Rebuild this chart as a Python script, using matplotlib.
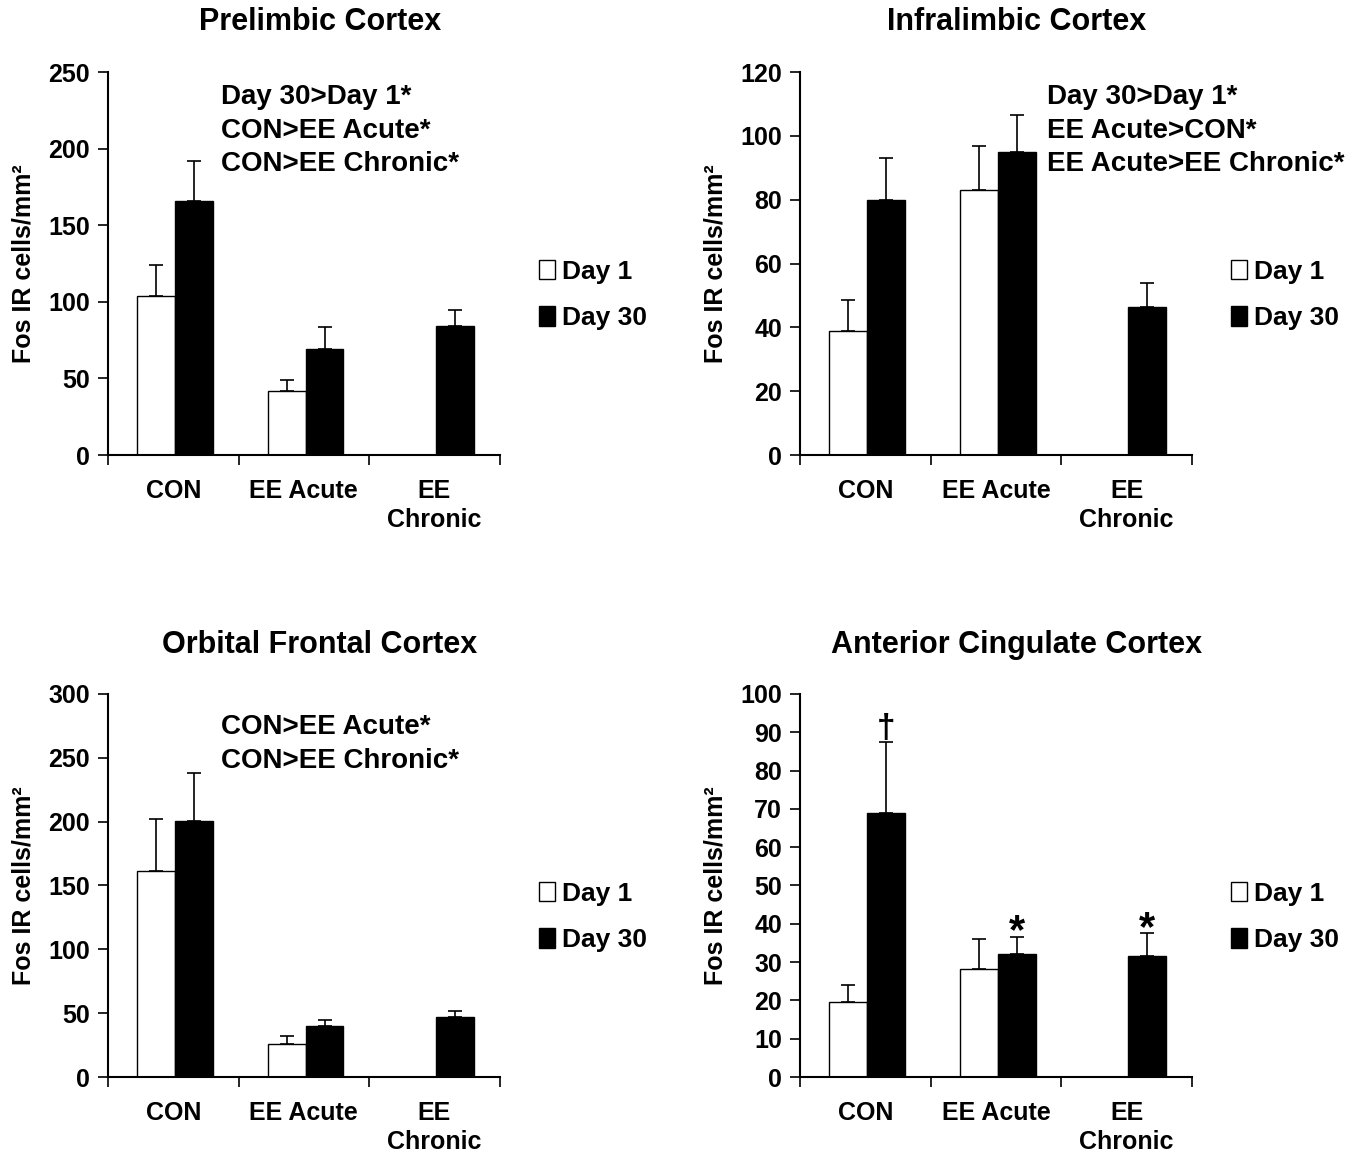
import numpy as np
import matplotlib
matplotlib.use("Agg")
import matplotlib.pyplot as plt
from matplotlib.patches import Patch

plt.rcParams['font.family'] = ['Liberation Sans', 'DejaVu Sans']
plt.rcParams['font.weight'] = 'bold'

categories = ["CON", "EE Acute", "EE\nChronic"]
series_names = ["Day 1", "Day 30"]

titles = ["Prelimbic Cortex", "Infralimbic Cortex",
          "Orbital Frontal Cortex", "Anterior Cingulate Cortex"]

pl_day1 = [104, 42, np.nan]
pl_day30 = [166, 69, 84]
pl_err1 = [20, 7, np.nan]
pl_err30 = [26, 14.5, 10.5]

il_day1 = [39, 83, np.nan]
il_day30 = [80, 95, 46.5]
il_err1 = [9.7, 13.8, np.nan]
il_err30 = [13, 11.5, 7.5]

ofc_day1 = [161, 26, np.nan]
ofc_day30 = [200.5, 40, 47]
ofc_err1 = [41, 6, np.nan]
ofc_err30 = [37.5, 5, 5]

acc_day1 = [19.5, 28.3, np.nan]
acc_day30 = [69, 32, 31.5]
acc_err1 = [4.5, 7.7, np.nan]
acc_err30 = [18.5, 4.5, 6]

ylims = [(0, 250), (0, 120), (0, 300), (0, 100)]
yticks = [np.arange(0, 251, 50), np.arange(0, 121, 20),
          np.arange(0, 301, 50), np.arange(0, 101, 10)]

notes = [["Day 30>Day 1*", "CON>EE Acute*", "CON>EE Chronic*"],
         ["Day 30>Day 1*", "EE Acute>CON*", "EE Acute>EE Chronic*"],
         ["CON>EE Acute*", "CON>EE Chronic*"],
         []]
note_x = [0.288, 0.63, 0.288, 0]
note_y = [0.935, 0.935, 0.914, 0]

acc_marks = ["\u2020", "*", "*"]

data = [(pl_day1, pl_day30, pl_err1, pl_err30),
        (il_day1, il_day30, il_err1, il_err30),
        (ofc_day1, ofc_day30, ofc_err1, ofc_err30),
        (acc_day1, acc_day30, acc_err1, acc_err30)]

fig = plt.figure(figsize=(13.7, 11.52), dpi=100)

positions = [(0.0788, 0.605), (0.584, 0.605), (0.0788, 0.0651), (0.584, 0.0651)]
title_pos = [(0.2336, 0.981), (0.742, 0.981), (0.2336, 0.44), (0.742, 0.44)]
W, H = 0.286, 0.3325

for i in range(4):
    ax = fig.add_axes([positions[i][0], positions[i][1], W, H])
    d1, d30, e1, e30 = data[i]
    centers = np.arange(len(categories)) + 0.5
    bw = 0.29
    x1 = centers - bw / 2 + 0.013
    x30 = centers + bw / 2 + 0.013
    ax.bar(x1, d1, width=bw, color='white', edgecolor='black', linewidth=1.0, zorder=2)
    ax.bar(x30, d30, width=bw, color='black', edgecolor='black', linewidth=1.0, zorder=2)
    ax.errorbar(x1, d1, yerr=[np.zeros(3), e1], fmt='none', ecolor='black',
                elinewidth=1.2, capsize=5, capthick=1.2, zorder=1)
    ax.errorbar(x30, d30, yerr=[np.zeros(3), e30], fmt='none', ecolor='black',
                elinewidth=1.2, capsize=5, capthick=1.2, zorder=1)
    ax.set_xlim(0, 3)
    ax.set_ylim(*ylims[i])
    ax.set_yticks(yticks[i])
    ax.tick_params(axis='y', labelsize=18, direction='out', length=7, width=1.2, pad=6)
    ax.set_xticks([0, 1, 2, 3])
    ax.set_xticklabels([])
    ax.tick_params(axis='x', which='major', direction='out', length=7, width=1.2)
    ax.set_xticks(centers, minor=True)
    ax.set_xticklabels(categories, minor=True, fontsize=18, fontweight='bold',
                       linespacing=1.3)
    ax.tick_params(axis='x', which='minor', length=0, pad=17)
    for lab in ax.get_yticklabels():
        lab.set_fontweight('bold')
    for s in ['top', 'right']:
        ax.spines[s].set_visible(False)
    for s in ['left', 'bottom']:
        ax.spines[s].set_linewidth(1.5)
    ax.set_ylabel("Fos IR cells/mm\u00b2", fontsize=18, fontweight='bold', labelpad=9)

    for k, line in enumerate(notes[i]):
        ax.text(note_x[i], note_y[i] - k * 0.088, line, transform=ax.transAxes,
                fontsize=20, fontweight='bold', va='center', ha='left')

    if i == 3:
        for j, m in enumerate(acc_marks):
            top = d30[j] + e30[j]
            if m == "*":
                ax.text(x30[j], top - 4.0, m, ha='center', va='bottom', fontsize=30,
                        fontweight='bold')
            else:
                ax.text(x30[j], top - 0.5, m, ha='center', va='bottom', fontsize=24,
                        fontweight='bold')

    handles = [Patch(facecolor='white', edgecolor='black', linewidth=1.0),
               Patch(facecolor='black', edgecolor='black', linewidth=1.0)]
    ax.legend(handles, series_names, loc='center left', bbox_to_anchor=(1.04, 0.418),
              frameon=False, handlelength=0.6, handleheight=0.75,
              handletextpad=0.25, labelspacing=0.85, prop={'weight': 'bold', 'size': 19})

    fig.text(title_pos[i][0], title_pos[i][1], titles[i], ha='center', va='center',
             fontsize=22, fontweight='bold')

fig.savefig("out.png", dpi=100)
